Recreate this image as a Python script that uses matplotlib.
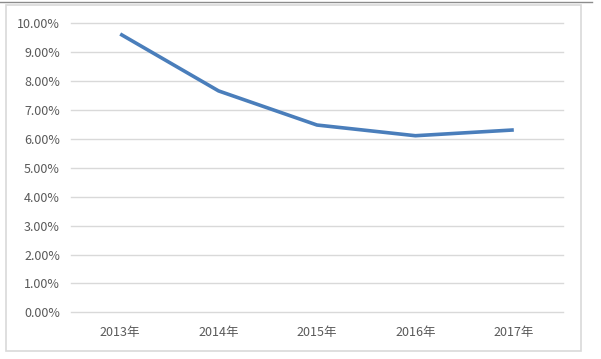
#!/usr/bin/env python3
"""Excel-style line chart: yearly rate, 2013-2017."""

import matplotlib
matplotlib.use("Agg")
import matplotlib.pyplot as plt
from matplotlib.patches import Rectangle
from matplotlib.lines import Line2D
from matplotlib.ticker import FuncFormatter, MultipleLocator

years = ["2013年", "2014年", "2015年", "2016年", "2017年"]
rates = [9.63, 7.66, 6.48, 6.11, 6.31]  # percent

plt.rcParams["font.family"] = ["Noto Sans CJK SC", "DejaVu Sans"]

W, H = 601, 359
fig = plt.figure(figsize=(W / 100, H / 100), dpi=100)
fig.patch.set_facecolor("white")

# chart frame and the dark strip at the very top
fig.add_artist(Rectangle((6 / W, 1 - 351 / H), 575 / W, 346 / H,
                         transform=fig.transFigure, fill=False,
                         edgecolor="#d9d9d9", linewidth=1.2))
fig.add_artist(Line2D([0, 592 / W], [1 - 1.5 / H] * 2, transform=fig.transFigure,
                      color="#8c8c8c", linewidth=1.0))

ax = fig.add_axes([71 / W, 1 - 312.3 / H, 492 / W, 289 / H])
x = list(range(len(years)))
ax.plot(x, rates, color="#4a7ebb", linewidth=2.6, solid_capstyle="butt", zorder=3)

ax.set_xlim(-0.5, len(years) - 0.5)
ax.set_ylim(0, 10)
ax.yaxis.set_major_locator(MultipleLocator(1))
ax.yaxis.set_major_formatter(FuncFormatter(lambda v, _: f"{v:.2f}%"))
ax.set_xticks(x)
ax.set_xticklabels(years)

ax.grid(axis="y", color="#d9d9d9", linewidth=1.0)
for gl in ax.get_ygridlines():
    gl.set_clip_on(False)
ax.set_axisbelow(True)
for s in ax.spines.values():
    s.set_visible(False)
ax.tick_params(length=0, labelsize=9, labelcolor="#595959")
ax.tick_params(axis="y", pad=8)
ax.tick_params(axis="x", pad=10)

fig.savefig("out.png", dpi=100)
